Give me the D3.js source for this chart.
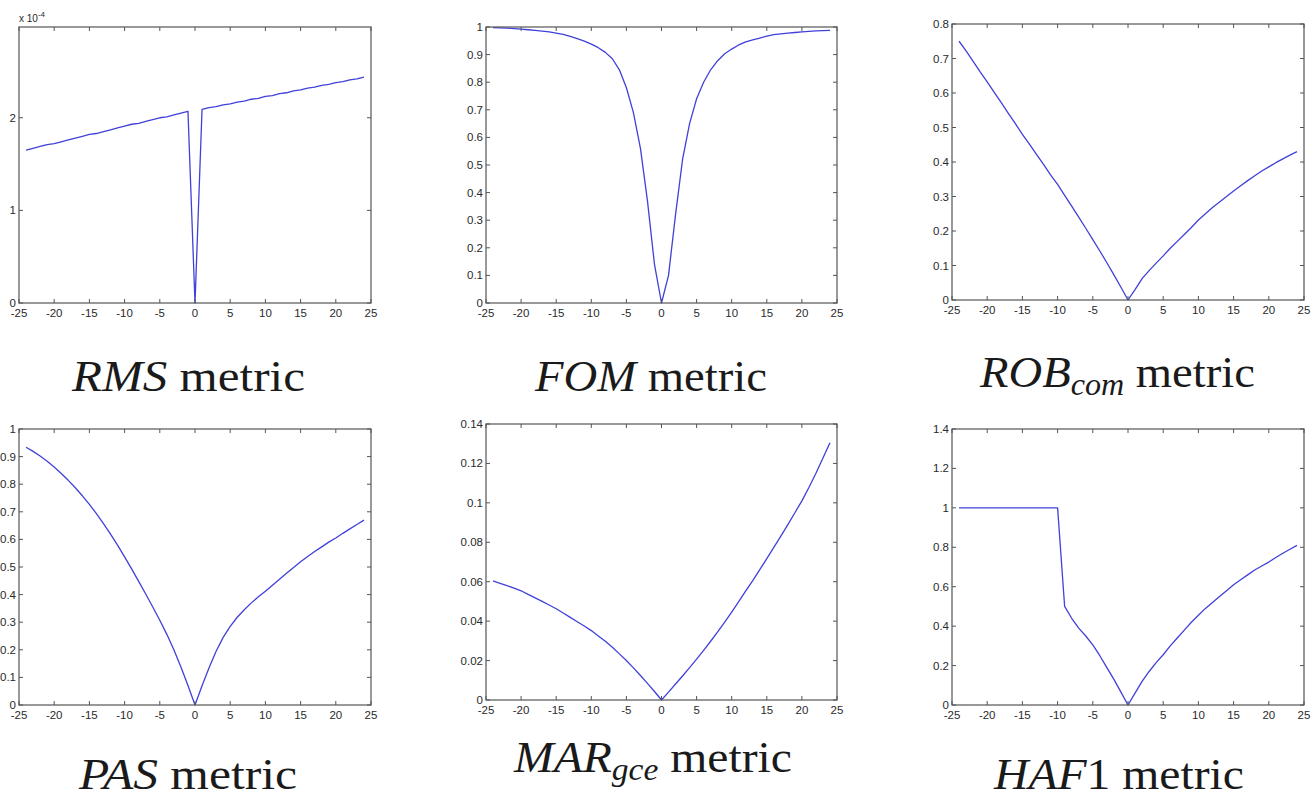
<!doctype html>
<html>
<head>
	<meta charset="utf-8">
	<title>Metrics vs shift</title>
	<script src="https://cdn.jsdelivr.net/npm/d3@7/dist/d3.min.js"></script>
	<style>
		body { margin: 0; background: #fff; }
		.caption, .caption tspan { font-family: 'Liberation Serif', 'Times New Roman', serif !important; }
	</style>
</head>
<body>
<script>
	// shift (x axis), same for every panel
	var shifts = [-24,-23,-22,-21,-20,-19,-18,-17,-16,-15,-14,-13,-12,-11,-10,-9,-8,-7,-6,-5,-4,-3,-2,-1,
		0,1,2,3,4,5,6,7,8,9,10,11,12,13,14,15,16,17,18,19,20,21,22,23,24];

	// RMS, in units of 1e-4
	var rmsValues = [1.65,1.67,1.69,1.71,1.72,1.74,1.76,1.78,1.80,1.82,1.83,1.85,1.87,1.89,1.91,1.93,1.94,1.96,1.98,2.00,2.01,2.03,2.05,2.07,
		0,2.09,2.11,2.12,2.14,2.15,2.17,2.18,2.20,2.21,2.23,2.24,2.26,2.27,2.29,2.30,2.32,2.33,2.35,2.36,2.38,2.39,2.41,2.42,2.44];

	var fomValues = [0.998,0.997,0.996,0.994,0.992,0.990,0.988,0.985,0.982,0.978,0.973,0.966,0.958,0.949,0.938,0.925,0.908,0.885,0.845,0.78,0.69,0.56,0.37,0.14,
		0,0.10,0.32,0.52,0.65,0.74,0.80,0.845,0.878,0.903,0.92,0.935,0.946,0.953,0.96,0.967,0.972,0.975,0.978,0.98,0.982,0.984,0.986,0.987,0.988];

	var robValues = [0.750,0.722,0.692,0.661,0.632,0.602,0.572,0.541,0.511,0.480,0.452,0.422,0.393,0.363,0.335,0.303,0.272,0.240,0.208,0.175,0.142,0.108,0.073,0.037,
		0,0.030,0.062,0.085,0.107,0.128,0.150,0.170,0.190,0.210,0.232,0.250,0.268,0.284,0.300,0.316,0.331,0.346,0.360,0.374,0.386,0.398,0.409,0.420,0.430];

	var pasValues = [0.934,0.919,0.902,0.883,0.862,0.839,0.814,0.787,0.758,0.727,0.693,0.657,0.619,0.579,0.537,0.493,0.448,0.402,0.355,0.307,0.256,0.200,0.138,0.071,
		0,0.070,0.135,0.195,0.245,0.285,0.318,0.345,0.370,0.392,0.412,0.434,0.456,0.477,0.498,0.519,0.538,0.556,0.573,0.590,0.605,0.622,0.638,0.654,0.670];

	var marValues = [0.0604,0.0592,0.0580,0.0568,0.0554,0.0536,0.0518,0.0500,0.0482,0.0463,0.0441,0.0419,0.0397,0.0375,0.0352,0.0325,0.0298,0.0268,0.0234,0.0200,0.0163,0.0124,0.0084,0.0043,
		0,0.0040,0.0081,0.0122,0.0164,0.0207,0.0252,0.0298,0.0346,0.0395,0.0446,0.0499,0.0553,0.0606,0.0661,0.0717,0.0774,0.0831,0.0890,0.0950,0.1010,0.1078,0.1150,0.1228,0.1305];

	var hafValues = [1,1,1,1,1,1,1,1,1,1,1,1,1,1,1,0.50,0.44,0.39,0.35,0.305,0.25,0.19,0.13,0.065,
		0,0.06,0.12,0.17,0.215,0.255,0.30,0.34,0.38,0.42,0.455,0.49,0.52,0.55,0.58,0.61,0.635,0.66,0.685,0.705,0.725,0.748,0.77,0.79,0.81];

	// tick labels
	var xTicks = [-25,-20,-15,-10,-5,0,5,10,15,20,25];
	var rmsTicks = [0,1,2];
	var fomTicks = [0,0.1,0.2,0.3,0.4,0.5,0.6,0.7,0.8,0.9,1];
	var robTicks = [0,0.1,0.2,0.3,0.4,0.5,0.6,0.7,0.8];
	var pasTicks = [0,0.1,0.2,0.3,0.4,0.5,0.6,0.7,0.8,0.9,1];
	var marTicks = [0,0.02,0.04,0.06,0.08,0.1,0.12,0.14];
	var hafTicks = [0,0.2,0.4,0.6,0.8,1,1.2,1.4];

	var panels = [
		{ values: rmsValues, yMax: 2.98, yTicks: rmsTicks, box: [19, 27, 371, 303], exponent: '-4',
			caption: [{ t: 'RMS', it: true }, { t: ' metric' }], cap: [72, 391, 233, 45] },
		{ values: fomValues, yMax: 1, yTicks: fomTicks, box: [486, 27, 837, 303],
			caption: [{ t: 'FOM', it: true }, { t: ' metric' }], cap: [535, 391, 232, 45] },
		{ values: robValues, yMax: 0.8, yTicks: robTicks, box: [952, 24, 1304, 300],
			caption: [{ t: 'ROB', it: true }, { t: 'com', it: true, sub: true }, { t: ' metric' }], cap: [980, 387, 275, 45] },
		{ values: pasValues, yMax: 1, yTicks: pasTicks, box: [19, 429, 371, 705],
			caption: [{ t: 'PAS', it: true }, { t: ' metric' }], cap: [79, 789, 218, 44] },
		{ values: marValues, yMax: 0.14, yTicks: marTicks, box: [486, 424, 837, 700],
			caption: [{ t: 'MAR', it: true }, { t: 'gce', it: true, sub: true }, { t: ' metric' }], cap: [514, 772, 278, 44] },
		{ values: hafValues, yMax: 1.4, yTicks: hafTicks, box: [952, 429, 1304, 705],
			caption: [{ t: 'HAF', it: true }, { t: '1 metric' }], cap: [994, 789, 250, 44] }
	];

	var svg = d3.select('body').append('svg')
		.attr('width', 1314)
		.attr('height', 798);

	panels.forEach(function(p) {
		var left = p.box[0], top = p.box[1], right = p.box[2], bottom = p.box[3];

		var x = d3.scaleLinear().domain([-25, 25]).range([left, right]);
		var y = d3.scaleLinear().domain([0, p.yMax]).range([bottom, top]);

		var g = svg.append('g');

		// the curve
		var line = d3.line()
			.x(function(d) { return x(d[0]); })
			.y(function(d) { return y(d[1]); });

		g.append('path')
			.datum(d3.zip(shifts, p.values))
			.attr('d', line)
			.attr('fill', 'none')
			.attr('stroke', '#4040da')
			.attr('stroke-width', 1.3)
			.attr('stroke-linejoin', 'round');

		// frame, matlab style: box with inward ticks on all four sides
		g.append('rect')
			.attr('x', left).attr('y', top)
			.attr('width', right - left).attr('height', bottom - top)
			.attr('fill', 'none')
			.attr('stroke', '#555')
			.attr('stroke-width', 1.2);

		xTicks.forEach(function(t) {
			g.append('path')
				.attr('d', 'M' + x(t) + ',' + bottom + 'v-4M' + x(t) + ',' + top + 'v4')
				.attr('stroke', '#555');
			g.append('text')
				.attr('x', x(t))
				.attr('y', bottom + 14)
				.attr('text-anchor', 'middle')
				.attr('font-family', 'Liberation Sans')
				.attr('font-size', 11.5)
				.attr('fill', '#2a2a2a')
				.text(t);
		});

		p.yTicks.forEach(function(t) {
			g.append('path')
				.attr('d', 'M' + left + ',' + y(t) + 'h4M' + right + ',' + y(t) + 'h-4')
				.attr('stroke', '#555');
			g.append('text')
				.attr('x', left - 3)
				.attr('y', y(t) + 4)
				.attr('text-anchor', 'end')
				.attr('font-family', 'Liberation Sans')
				.attr('font-size', 11.5)
				.attr('fill', '#2a2a2a')
				.text(String(t));
		});

		if (p.exponent) {
			var ex = g.append('text')
				.attr('x', left)
				.attr('y', top - 5)
				.attr('font-family', 'Liberation Sans')
				.attr('font-size', 10)
				.attr('fill', '#2a2a2a')
				.text('x 10');
			ex.append('tspan')
				.attr('dy', -5)
				.attr('font-size', 8)
				.text(p.exponent);
		}

		// caption under the plot, squeezed to the width it has in the figure
		var cap = g.append('text')
			.attr('class', 'caption')
			.attr('x', 0).attr('y', 0)
			.attr('font-family', 'Liberation Serif')
			.attr('font-size', p.cap[3])
			.attr('fill', '#1a1a1a');

		p.caption.forEach(function(part, i) {
			var s = cap.append('tspan')
				.attr('font-family', 'Liberation Serif')
				.attr('font-style', part.it ? 'italic' : 'normal')
				.text(part.t);
			if (part.sub) {
				s.attr('dy', 8).attr('font-size', 31);
			} else if (i > 0 && p.caption[i - 1].sub) {
				s.attr('dy', -8);
			}
		});

		var w = cap.node().getComputedTextLength();
		cap.attr('transform', 'translate(' + p.cap[0] + ',' + p.cap[1] + ') scale(' + (p.cap[2] / w) + ',1)');
	});
</script>
</body>
</html>
